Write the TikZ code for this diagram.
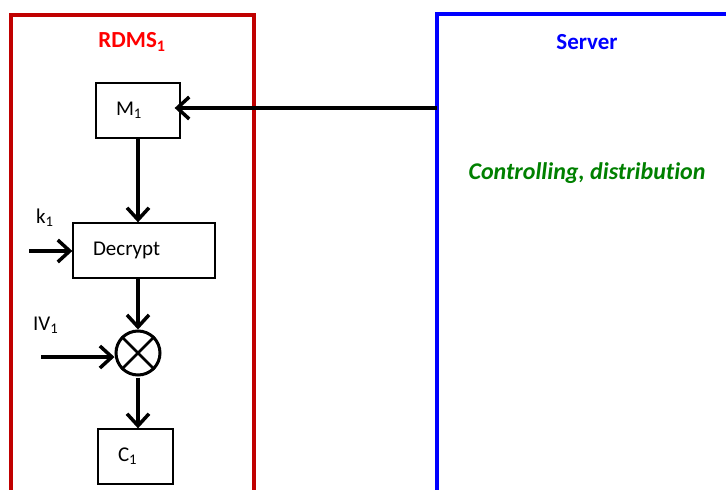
\documentclass[tikz,border=0pt]{standalone}
\usepackage{fontspec}
\setmainfont[Ligatures=NoCommon]{Carlito}
\usetikzlibrary{arrows.meta,calc}
\definecolor{rdmsred}{RGB}{192,0,0}
\definecolor{titlered}{RGB}{255,0,0}
\definecolor{srvblue}{RGB}{0,0,255}
\definecolor{srvgreen}{RGB}{0,128,0}
\tikzset{
  blockbox/.style={draw=black, line width=1.3pt, minimum height=55pt, inner xsep=20pt,
    inner ysep=0pt, align=left, font=\fontsize{21}{25}\selectfont},
  flow/.style={line width=3.5pt, -{Straight Barb[length=12pt,width=22pt,line width=3.5pt]}},
  plain/.style={font=\fontsize{21}{25}\selectfont, inner sep=0pt},
  title/.style={font=\fontsize{23}{27}\selectfont\bfseries, inner sep=0pt}
}
\begin{document}
\begin{tikzpicture}[x=1pt,y=-1pt]
  \useasboundingbox (0,0) rectangle (726,490);
  \clip (0,0) rectangle (726,490);

  % enclosing frames (open at the bottom / right)
  \draw[rdmsred, line width=4pt] (10.5,500) -- (10.5,14.5) -- (254,14.5) -- (254,500);
  \draw[srvblue, line width=4pt] (437,500) -- (437,14) -- (740,14);

  % titles
  \node[title, text=titlered] (rdms) at (132,42) {RDMS\textsubscript{1}};
  \node[title, text=srvblue] (srv) at (587,42) {Server};
  \node[title, text=srvgreen, font=\fontsize{24}{28}\selectfont\bfseries\itshape] (task) at (587,173) {Controlling, distribution};

  % blocks
  \node[blockbox, text width=44pt] (m1) at (138,110.5) {M\textsubscript{1}};
  \node[blockbox, text width=102pt] (dec) at (144,250.5) {Decrypt};
  \node[draw=black, line width=3pt, circle, minimum size=44pt, inner sep=0pt] (xor) at (138,353) {};
  \draw[line width=2.6pt] (xor.45) -- (xor.225) (xor.135) -- (xor.315);
  \node[blockbox, text width=35pt] (c1) at (135.5,456.5) {C\textsubscript{1}};

  % inputs
  \coordinate (srvout) at (437,108);
  \coordinate (kin) at (29,251);
  \coordinate (ivin) at (41,357);
  \node[plain, anchor=west] (klab) at (36,218) {k\textsubscript{1}};
  \node[plain, anchor=west] (ivlab) at (33,325) {IV\textsubscript{1}};

  % connectors
  \draw[flow, shorten >=-6pt] (srvout) -- (srvout -| m1.east);
  \draw[flow] (m1.south -| xor) -- (dec.north -| xor);
  \draw[flow] (kin) -- (kin -| dec.west);
  \draw[flow] (dec.south -| xor) -- (xor.north);
  \draw[flow] (ivin) -- (ivin -| xor.west);
  \draw[flow] (xor.south) ++(0,1) -- (c1.north -| xor);
\end{tikzpicture}
\end{document}
